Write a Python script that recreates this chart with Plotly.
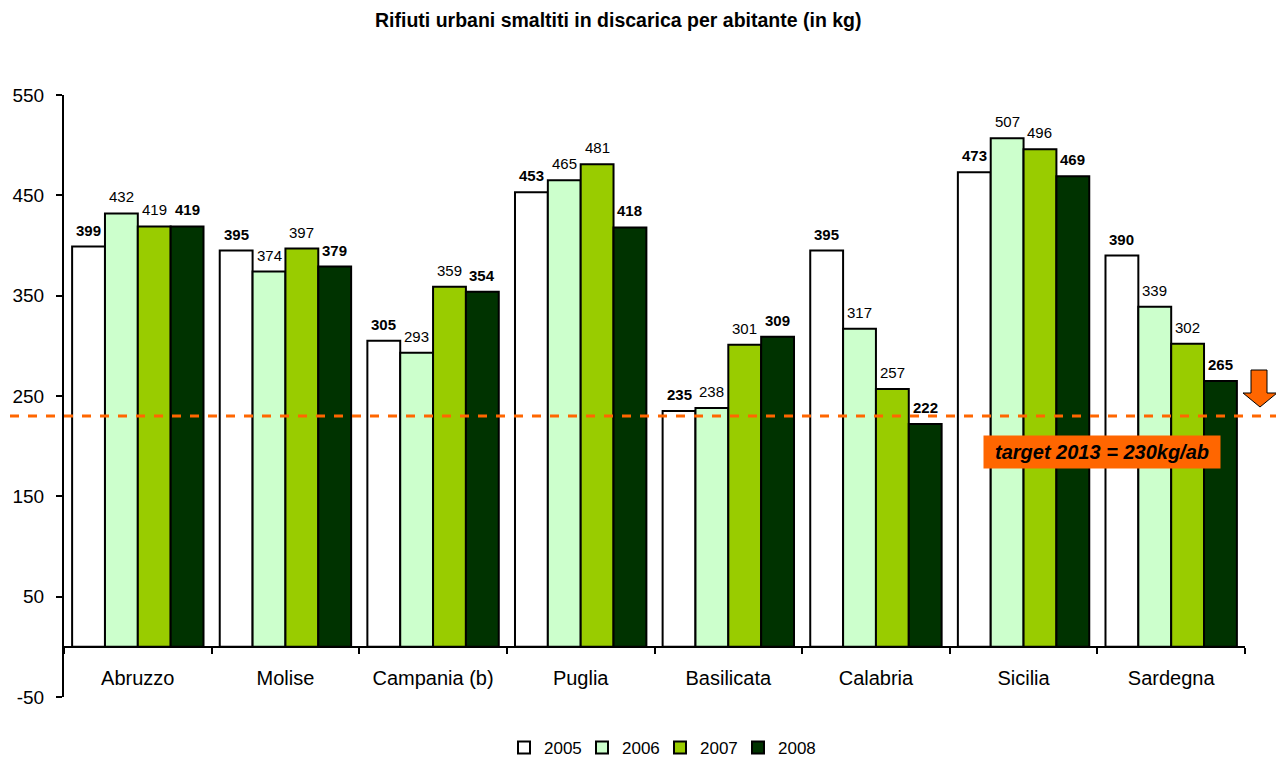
import plotly.graph_objects as go

regions = ["Abruzzo", "Molise", "Campania (b)", "Puglia", "Basilicata", "Calabria", "Sicilia", "Sardegna"]
years = ["2005", "2006", "2007", "2008"]
v2005 = [399, 395, 305, 453, 235, 395, 473, 390]
v2006 = [432, 374, 293, 465, 238, 317, 507, 339]
v2007 = [419, 397, 359, 481, 301, 257, 496, 302]
v2008 = [419, 379, 354, 418, 309, 222, 469, 265]
series = [v2005, v2006, v2007, v2008]
colors = ["#FFFFFF", "#CCFFCC", "#99CC00", "#003300"]
bold = [True, False, False, True]
TARGET = 230
y_ticks = [-50, 50, 150, 250, 350, 450, 550]
y_tick_text = ["-50", "50", "150", "250", "350", "450", "550"]

FONT = "Liberation Sans, Arial, sans-serif"
OFF = 8  # page body margin
W, H = 1284 - OFF, 760 - OFF
PL, PR, PT, PB = 64, 1245, 95, 697  # plot area in page pixels
L, T = PL - OFF, PT - OFF
R = W - (PR - OFF)
B = H - (PB - OFF)
pw = PR - PL
BARGAP = 0.11

def px2paper(px):
    return (px - PL) / pw

def py2data(py):
    return 550 - (py - PT) * 600 / (PB - PT)

fig = go.Figure()
cat_px = pw / len(regions)
bar_w = (1 - BARGAP) / len(series)
for i, (name, vals, col, b) in enumerate(zip(years, series, colors, bold)):
    fig.add_trace(go.Bar(
        x=regions, y=vals, name=name,
        marker=dict(color=col, line=dict(color="black", width=2)),
    ))
    xs = (i - (len(series) - 1) / 2) * bar_w * cat_px
    for r, v in zip(regions, vals):
        fig.add_annotation(x=r, y=v, xref="x", yref="y", showarrow=False,
                           text=f"<b>{v}</b>" if b else f"{v}",
                           xshift=xs, yshift=6, yanchor="bottom", xanchor="center",
                           font=dict(size=15, color="black", family=FONT))

# target line
fig.add_shape(type="line", xref="paper", yref="y",
              x0=px2paper(10), x1=px2paper(1282), y0=TARGET, y1=TARGET,
              line=dict(color="#FF6600", width=3, dash="dash"))

# arrow
ax = [1251, 1267, 1267, 1277, 1260, 1243, 1251]
ay_px = [370, 370, 393, 393, 407, 393, 393]
path = "M " + " L ".join(f"{px2paper(a)},{py2data(b)}" for a, b in zip(ax, ay_px)) + " Z"
fig.add_shape(type="path", xref="paper", yref="y", path=path,
              fillcolor="#FF6600", line=dict(color="black", width=1))

fig.add_annotation(xref="paper", yref="y", x=px2paper(1102), y=py2data(452),
                   xanchor="center", yanchor="middle",
                   text="<b><i>target 2013 = 230kg/ab</i></b>", showarrow=False,
                   bgcolor="#FF6600", font=dict(size=20, color="black", family=FONT),
                   width=232, height=28, borderpad=2)

fig.add_annotation(xref="paper", yref="paper", x=px2paper(618), y=1 + (PT - 20) / (PB - PT),
                   text="<b>Rifiuti urbani smaltiti in discarica per abitante (in kg)</b>",
                   showarrow=False, font=dict(size=19.5, color="black", family=FONT),
                   xanchor="center", yanchor="middle")

fig.update_layout(
    width=W, height=H,
    margin=dict(l=L, r=R, t=T, b=B, autoexpand=False),
    paper_bgcolor="white", plot_bgcolor="white",
    barmode="group", bargap=BARGAP, bargroupgap=0,
    font=dict(family=FONT, color="black", size=17),
    showlegend=True,
    legend=dict(orientation="h", x=px2paper(660), xanchor="center",
                y=(PB - 748) / (PB - PT), yanchor="middle",
                font=dict(size=17), itemwidth=30, traceorder="normal",
                entrywidth=33, entrywidthmode="pixels"),
    xaxis=dict(anchor="free", position=50 / 600, showline=True, linecolor="black",
               linewidth=2, ticks="outside", tickson="boundaries", ticklen=6,
               tickwidth=2, tickcolor="black", showgrid=False,
               tickfont=dict(size=20), ticklabelstandoff=13),
    yaxis=dict(range=[-50, 550], tickvals=y_ticks, ticktext=y_tick_text, showline=True,
               linecolor="black", linewidth=2, ticks="outside", ticklen=6, tickwidth=2,
               tickcolor="black", showgrid=False, zeroline=False, tickfont=dict(size=19),
               ticklabelstandoff=8),
)

fig.write_html("out.html")
